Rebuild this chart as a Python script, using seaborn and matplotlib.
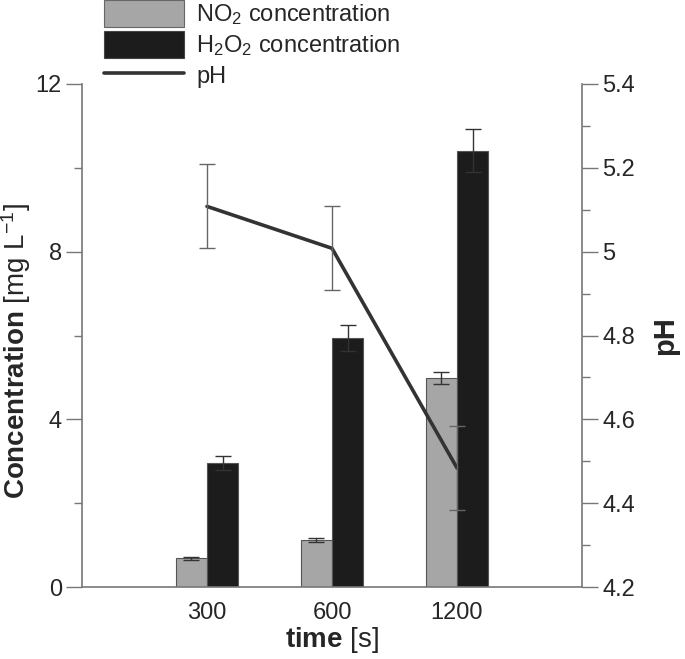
import numpy as np
import pandas as pd
import matplotlib
matplotlib.use("Agg")
import matplotlib.pyplot as plt
import seaborn as sns
from matplotlib.ticker import MultipleLocator, FormatStrFormatter
from matplotlib.patches import Patch
from matplotlib.lines import Line2D

# data
times = ["300", "600", "1200"]
no2 = [0.68, 1.12, 4.98]
no2_err = [0.03, 0.05, 0.14]
h2o2 = [2.96, 5.95, 10.41]
h2o2_err = [0.17, 0.31, 0.52]
ph = [5.108, 5.008, 4.484]
ph_err = [0.1, 0.1, 0.1]

df = pd.DataFrame({
    "time": times * 2,
    "conc": no2 + h2o2,
    "species": ["NO2"] * 3 + ["H2O2"] * 3,
})

sns.set_style("ticks")
plt.rcParams["font.family"] = ["Liberation Sans", "DejaVu Sans"]
plt.rcParams["mathtext.fontset"] = "custom"
plt.rcParams["mathtext.rm"] = "Liberation Sans"
plt.rcParams["mathtext.bf"] = "Liberation Sans:bold"
plt.rcParams["mathtext.it"] = "Liberation Sans:italic"

fig = plt.figure(figsize=(6.85, 6.59), dpi=100)
ax = fig.add_axes([82 / 685, 1 - 587 / 659, 500 / 685, 503 / 659])

c_no2 = "#a6a6a6"
c_h2o2 = "#1c1c1c"
sns.barplot(data=df, x="time", y="conc", hue="species", order=times,
            hue_order=["NO2", "H2O2"], palette=[c_no2, c_h2o2],
            width=0.5, errorbar=None, legend=False, ax=ax,
            edgecolor="#555555", linewidth=0.8)

x = np.arange(len(times))
ax.errorbar(x - 0.125, no2, yerr=no2_err, fmt="none", ecolor="#333333",
            elinewidth=1, capsize=6, capthick=1)
ax.errorbar(x + 0.125, h2o2, yerr=h2o2_err, fmt="none", ecolor="#333333",
            elinewidth=1, capsize=6, capthick=1)

ax.set_xlim(-1, 3)
ax.set_ylim(0, 12)
ax.yaxis.set_major_locator(MultipleLocator(4))
ax.yaxis.set_minor_locator(MultipleLocator(2))
ax.tick_params(axis="y", which="major", direction="out", length=11.5,
               width=1, color="#777777", labelsize=17, pad=3)
ax.tick_params(axis="y", which="minor", direction="out", length=6,
               width=1, color="#777777")
ax.tick_params(axis="x", length=0, labelsize=17, pad=11)
ax.set_xlabel(r"$\mathbf{time}$ [s]", fontsize=20, labelpad=0.5)
ax.set_ylabel(r"$\mathbf{Concentration}$ [mg L$^{-1}$]", fontsize=20)
ax.yaxis.set_label_coords(-0.097, 0.469)

ax2 = ax.twinx()
sns.lineplot(x=x, y=ph, color="#333333", linewidth=2.6, ax=ax2)
ax2.errorbar(x, ph, yerr=ph_err, fmt="none", ecolor="#666666",
             elinewidth=1, capsize=6, capthick=1)
ax2.set_ylim(4.2, 5.4)
ax2.yaxis.set_major_locator(MultipleLocator(0.2))
ax2.yaxis.set_minor_locator(MultipleLocator(0.1))
ax2.yaxis.set_major_formatter(FormatStrFormatter("%g"))
ax2.tick_params(axis="y", which="major", direction="out", length=11.5,
                width=1, color="#777777", labelsize=17, pad=3)
ax2.tick_params(axis="y", which="minor", direction="out", length=6,
                width=1, color="#777777")
ax2.set_ylabel("pH", fontsize=21, fontweight="bold", rotation=90)
ax2.yaxis.set_label_coords(1.138, 0.5)

for a in (ax, ax2):
    a.spines["top"].set_visible(False)
    for s in ("left", "right", "bottom"):
        a.spines[s].set_color("#777777")
        a.spines[s].set_linewidth(1.2)
ax.spines["right"].set_visible(False)
ax2.spines["left"].set_visible(False)
ax2.spines["bottom"].set_visible(False)

handles = [
    Patch(facecolor=c_no2, edgecolor="#666666", linewidth=0.8),
    Patch(facecolor=c_h2o2, edgecolor="#444444", linewidth=0.8),
    Line2D([0], [0], color="#333333", linewidth=2.6),
]
labels = [r"NO$_2$ concentration", r"H$_2$O$_2$ concentration", "pH"]
fig.legend(handles, labels, loc="upper left", bbox_to_anchor=(104 / 685, 1.0),
           frameon=False, fontsize=17, handlelength=3.4, handleheight=1.4,
           handletextpad=0.5, labelspacing=0.15, borderpad=0, borderaxespad=0)

fig.savefig("out.png", dpi=100)
